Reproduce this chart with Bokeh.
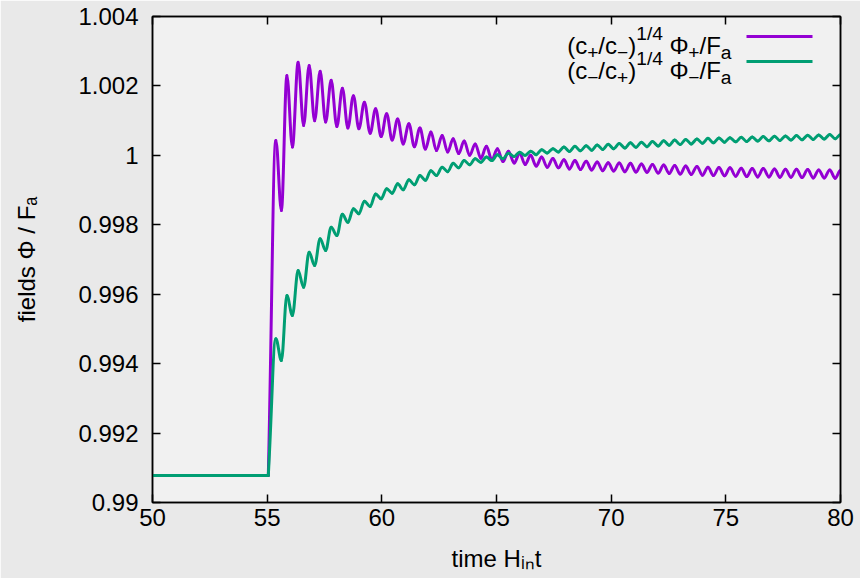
import numpy as np
from bokeh.plotting import figure
from bokeh.models import LinearAxis, FixedTicker, Label, BoxAnnotation, Range1d, ColumnDataSource
from bokeh.embed import file_html
from bokeh.resources import INLINE

# ---------------- data ----------------
x_ticks = [50, 55, 60, 65, 70, 75, 80]
x_tick_labels = ["50", "55", "60", "65", "70", "75", "80"]
y_ticks = [0.99, 0.992, 0.994, 0.996, 0.998, 1.0, 1.002, 1.004]
y_tick_labels = ["0.99", "0.992", "0.994", "0.996", "0.998", "1", "1.002", "1.004"]

x_title = "time H\u1d62\u2099t"
y_title = "fields \u03a6 / F\u2090"

t_start = 50.0
t_kick = 55.05
field_before = 0.99078

# times of successive extrema (peak, trough, peak, ...)
t_ext = [
    55.38, 55.62, 55.86, 56.10, 56.35, 56.59, 56.83, 57.07, 57.31, 57.55,
    57.79, 58.04, 58.28, 58.52, 58.76, 59.00, 59.24, 59.49, 59.73, 59.97,
    60.21, 60.45, 60.69, 60.93, 61.18, 61.42, 61.66, 61.90, 62.14, 62.38,
    62.63, 62.87, 63.11, 63.35, 63.59, 63.83, 64.07, 64.32, 64.56, 64.80,
    65.04, 65.28, 65.52, 65.77, 66.01, 66.25, 66.49, 66.73, 66.97, 67.21,
    67.46, 67.70, 67.94, 68.18, 68.42, 68.66, 68.91, 69.15, 69.39, 69.63,
    69.87, 70.11, 70.35, 70.60, 70.84, 71.08, 71.32, 71.56, 71.80, 72.05,
    72.29, 72.53, 72.77, 73.01, 73.25, 73.49, 73.74, 73.98, 74.22, 74.46,
    74.70, 74.94, 75.18, 75.43, 75.67, 75.91, 76.15, 76.39, 76.63, 76.88,
    77.12, 77.36, 77.60, 77.84, 78.08, 78.32, 78.57, 78.81, 79.05, 79.29,
    79.53, 79.77, 80.00,
]

# (c+/c-)^(1/4) Phi+/Fa at those extrema
phi_plus = [
    1.00043, 0.99841, 1.00230, 1.00024, 1.00268, 1.00086, 1.00259, 1.00100, 1.00242, 1.00096,
    1.00216, 1.00083, 1.00193, 1.00079, 1.00172, 1.00077, 1.00153, 1.00064, 1.00134, 1.00054,
    1.00120, 1.00044, 1.00105, 1.00033, 1.00091, 1.00025, 1.00079, 1.00018, 1.00067, 1.00014,
    1.00057, 1.00010, 1.00048, 1.00005, 1.00041, 1.00000, 1.00033, 0.99992, 1.00026, 0.99987,
    1.00019, 0.99982, 1.00012, 0.99978, 1.00006, 0.99974, 1.00000, 0.99969, 0.99995, 0.99966,
    0.99991, 0.99964, 0.99987, 0.99961, 0.99985, 0.99959, 0.99983, 0.99958, 0.99981, 0.99956,
    0.99979, 0.99955, 0.99978, 0.99953, 0.99977, 0.99952, 0.99975, 0.99951, 0.99974, 0.99949,
    0.99972, 0.99948, 0.99971, 0.99946, 0.99969, 0.99945, 0.99968, 0.99943, 0.99966, 0.99942,
    0.99965, 0.99941, 0.99964, 0.99940, 0.99963, 0.99939, 0.99962, 0.99938, 0.99962, 0.99938,
    0.99961, 0.99937, 0.99960, 0.99937, 0.99960, 0.99936, 0.99959, 0.99935, 0.99958, 0.99935,
    0.99958, 0.99934, 0.99957,
]

# (c-/c+)^(1/4) Phi-/Fa at those extrema
phi_minus = [
    0.99472, 0.99409, 0.99596, 0.99539, 0.99668, 0.99620, 0.99721, 0.99683, 0.99760, 0.99726,
    0.99793, 0.99769, 0.99830, 0.99807, 0.99846, 0.99832, 0.99868, 0.99853, 0.99889, 0.99875,
    0.99904, 0.99891, 0.99918, 0.99901, 0.99930, 0.99915, 0.99942, 0.99928, 0.99956, 0.99942,
    0.99966, 0.99953, 0.99977, 0.99964, 0.99985, 0.99973, 0.99990, 0.99980, 0.99995, 0.99985,
    1.00002, 0.99990, 1.00006, 0.99997, 1.00009, 1.00000, 1.00012, 1.00002, 1.00016, 1.00007,
    1.00019, 1.00010, 1.00024, 1.00011, 1.00026, 1.00013, 1.00028, 1.00015, 1.00030, 1.00017,
    1.00032, 1.00019, 1.00034, 1.00021, 1.00036, 1.00023, 1.00038, 1.00025, 1.00040, 1.00027,
    1.00042, 1.00029, 1.00044, 1.00031, 1.00046, 1.00033, 1.00047, 1.00035, 1.00049, 1.00036,
    1.00050, 1.00038, 1.00051, 1.00039, 1.00052, 1.00040, 1.00053, 1.00041, 1.00054, 1.00042,
    1.00055, 1.00043, 1.00056, 1.00044, 1.00057, 1.00045, 1.00058, 1.00046, 1.00059, 1.00047,
    1.00060, 1.00048, 1.00060,
]

# ---------------- styling / layout ----------------
FONT = "Liberation Sans"
PURPLE = "#9400d3"
GREEN = "#009e73"
W, H = 860, 578
FL, FR, FT, FB = 152, 840, 16, 502   # frame edges in canvas px
FS = 24.0                             # main font size

p = figure(width=W, height=H, x_range=Range1d(50, 80), y_range=Range1d(0.99, 1.004),
           output_backend="svg", toolbar_location=None,
           min_border_left=FL, min_border_right=W - FR,
           min_border_top=FT, min_border_bottom=H - FB)
p.background_fill_color = "#f1f1f1"
p.border_fill_color = "#e9e9e9"
p.outline_line_color = "black"
p.outline_line_width = 1.5
p.grid.visible = False


def style_axis(ax, show_labels=True):
    ax.major_tick_in = 8
    ax.major_tick_out = 0
    ax.minor_tick_line_color = None
    ax.axis_line_color = "black"
    ax.axis_line_width = 1.5
    ax.major_tick_line_color = "black"
    ax.major_tick_line_width = 1.5
    ax.major_label_text_font = FONT
    if show_labels:
        ax.major_label_text_color = "black"
        ax.major_label_text_font_size = f"{FS}px"
    else:
        ax.major_label_text_color = None
        ax.major_label_text_font_size = "1px"
        ax.major_label_standoff = 0


xa = p.xaxis[0]
ya = p.yaxis[0]
xa.ticker = FixedTicker(ticks=x_ticks)
ya.ticker = FixedTicker(ticks=y_ticks)
xa.major_label_overrides = dict(zip(x_ticks, x_tick_labels))
ya.major_label_overrides = dict(zip(y_ticks, y_tick_labels))
style_axis(xa)
style_axis(ya)
xa.major_label_standoff = 6
ya.major_label_standoff = 14

for ax, title, standoff in ((xa, x_title, 16), (ya, y_title, 35)):
    ax.axis_label = title
    ax.axis_label_text_font = FONT
    ax.axis_label_text_font_size = f"{FS}px"
    ax.axis_label_text_font_style = "normal"
    ax.axis_label_text_color = "black"
    ax.axis_label_standoff = standoff

top = LinearAxis(ticker=FixedTicker(ticks=x_ticks))
right = LinearAxis(ticker=FixedTicker(ticks=y_ticks))
style_axis(top, False)
style_axis(right, False)
p.add_layout(top, "above")
p.add_layout(right, "right")


def bezier_source(ts, vs):
    xs = np.array([t_start, t_kick] + list(ts), dtype=float)
    ys = np.array([field_before, field_before] + list(vs), dtype=float)
    x0, x1 = xs[:-1], xs[1:]
    y0, y1 = ys[:-1], ys[1:]
    dx, dy = x1 - x0, y1 - y0
    cx0 = x0 + 0.36 * dx
    cy0 = y0.copy()
    cx1 = x1 - 0.36 * dx
    cy1 = y1.copy()
    # the kick: leave the flat part steeply
    cx0[1] = x0[1] + 0.5 * dx[1]
    cy0[1] = y0[1] + 0.5 * dy[1]
    return ColumnDataSource(dict(x0=x0, y0=y0, x1=x1, y1=y1,
                                 cx0=cx0, cy0=cy0, cx1=cx1, cy1=cy1))


for vals, col in ((phi_plus, PURPLE), (phi_minus, GREEN)):
    src = bezier_source(t_ext, vals)
    p.bezier(x0="x0", y0="y0", x1="x1", y1="y1", cx0="cx0", cy0="cy0",
             cx1="cx1", cy1="cy1", source=src, line_color=col, line_width=3,
             line_cap="round")

# ---------------- legend with sub/superscripts ----------------
W_EM = {'(': 333, ')': 333, 'c': 500, '+': 584, '\u2212': 584, '/': 278, '1': 556,
        '4': 556, ' ': 278, '\u03a6': 778, 'F': 611, 'a': 556}
SHIFT = {"n": 0.0, "sub": 7.0, "sup": -12.0}


def piece_width(txt, kind):
    fs = FS if kind == "n" else 0.8 * FS
    return sum(W_EM[c] for c in txt) * fs / 1000


def text_run(pieces, start, base):
    pos = start
    for txt, kind in pieces:
        fs = FS if kind == "n" else 0.8 * FS
        if txt.strip():
            p.add_layout(Label(x=pos - FL, y=FB - (base + SHIFT[kind]),
                               x_units="screen", y_units="screen",
                               text=txt, text_font=FONT, text_font_size=f"{fs:.1f}px",
                               text_align="left", text_baseline="alphabetic",
                               text_color="black"))
        pos += piece_width(txt, kind)


legend1 = [("(c", "n"), ("+", "sub"), ("/c", "n"), ("\u2212", "sub"), (")", "n"),
           ("1/4", "sup"), (" ", "n"), ("\u03a6", "n"), ("+", "sub"), ("/F", "n"), ("a", "sub")]
legend2 = [("(c", "n"), ("\u2212", "sub"), ("/c", "n"), ("+", "sub"), (")", "n"),
           ("1/4", "sup"), (" ", "n"), ("\u03a6", "n"), ("\u2212", "sub"), ("/F", "n"), ("a", "sub")]

LEG_RIGHT = 731
for pieces, base, yc, col in ((legend1, 45, 36, PURPLE), (legend2, 70, 61, GREEN)):
    total = sum(piece_width(t, k) for t, k in pieces)
    text_run(pieces, LEG_RIGHT - total, base)
    p.add_layout(BoxAnnotation(left=746 - FL, right=812 - FL, top=FB - (yc - 1.5),
                               bottom=FB - (yc + 1.5), left_units="screen",
                               right_units="screen", top_units="screen",
                               bottom_units="screen", fill_color=col, fill_alpha=1.0,
                               line_color=None))

open("out.html", "w").write(file_html(p, INLINE))
